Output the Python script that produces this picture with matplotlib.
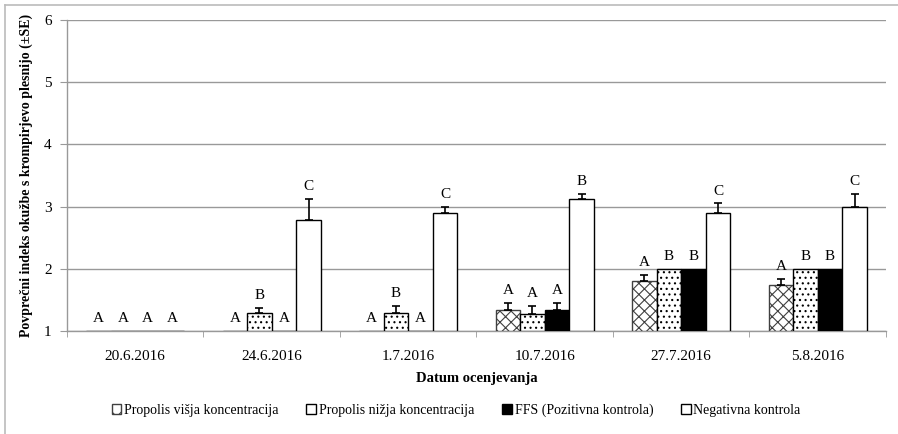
import matplotlib
matplotlib.use("Agg")
import matplotlib.pyplot as plt
import numpy as np
from matplotlib.lines import Line2D
from matplotlib.patches import Patch

plt.rcParams['font.family'] = ['Liberation Serif', 'DejaVu Serif']
plt.rcParams['hatch.linewidth'] = 0.8

dates = ["20.6.2016", "24.6.2016", "1.7.2016", "10.7.2016", "27.7.2016", "5.8.2016"]
series = ["Propolis višja koncentracija", "Propolis nižja koncentracija",
          "FFS (Pozitivna kontrola)", "Negativna kontrola"]

visja = [1.0, 1.0, 1.0, 1.34, 1.81, 1.74]
visja_se = [0.0, 0.0, 0.0, 0.11, 0.09, 0.10]
nizja = [1.0, 1.29, 1.29, 1.28, 2.0, 2.0]
nizja_se = [0.0, 0.08, 0.11, 0.12, 0.0, 0.0]
ffs = [1.0, 1.0, 1.0, 1.34, 2.0, 2.0]
ffs_se = [0.0, 0.0, 0.0, 0.11, 0.0, 0.0]
neg = [1.0, 2.78, 2.89, 3.12, 2.89, 3.0]
neg_se = [0.0, 0.35, 0.10, 0.08, 0.16, 0.20]

letters_visja = ["A", "A", "A", "A", "A", "A"]
letters_nizja = ["A", "B", "B", "A", "B", "B"]
letters_ffs = ["A", "A", "A", "A", "B", "B"]
letters_neg = ["A", "C", "C", "B", "C", "C"]

fig = plt.figure(figsize=(8.98, 4.34), dpi=100)
ax = fig.add_axes([0.0746, 0.2373, 0.912, 0.7166])

x = np.arange(len(dates))
w = 0.18
styles = [
    dict(facecolor="white", edgecolor="#404040", hatch="xxx"),
    dict(facecolor="white", edgecolor="black", hatch="..."),
    dict(facecolor="black", edgecolor="black", hatch=None),
    dict(facecolor="white", edgecolor="black", hatch=None),
]
values = [visja, nizja, ffs, neg]
errors = [visja_se, nizja_se, ffs_se, neg_se]
letters = [letters_visja, letters_nizja, letters_ffs, letters_neg]

for k in range(4):
    pos = x + (k - 1.5) * w
    vals = np.array(values[k])
    se = np.array(errors[k])
    ax.bar(pos, vals - 1, bottom=1, width=w, linewidth=1.0,
           label=series[k], zorder=3, **styles[k])
    mask = se > 0
    ax.errorbar(pos[mask], vals[mask], yerr=[np.zeros(mask.sum()), se[mask]],
                fmt="none", ecolor="black", elinewidth=1.2, capsize=3,
                capthick=1.2, zorder=4)
    for px, v, e, t in zip(pos, vals, se, letters[k]):
        ax.text(px, v + e + 0.2, t, ha="center", va="center", fontsize=11,
                zorder=5)

ax.set_xlim(-0.5, len(dates) - 0.5)
ax.set_ylim(1, 6)
ax.set_yticks([1, 2, 3, 4, 5, 6])
ax.set_xticks(x)
ax.set_xticklabels(dates)
ax.set_xticks(np.arange(len(dates) + 1) - 0.5, minor=True)
ax.tick_params(axis="x", which="major", length=0, pad=14, labelsize=11)
ax.tick_params(axis="x", which="minor", length=4, color="#999999", direction="out")
ax.tick_params(axis="y", length=5, color="#999999", labelsize=11, pad=6)
ax.grid(axis="y", color="#999999", linewidth=1.0, zorder=0)
ax.set_axisbelow(True)
for s in ["top", "right"]:
    ax.spines[s].set_visible(False)
for s in ["left", "bottom"]:
    ax.spines[s].set_color("#999999")
    ax.spines[s].set_linewidth(1.0)

ax.set_xlabel("Datum ocenjevanja", fontsize=10.5, fontweight="bold", labelpad=6)
ax.set_ylabel("Povprečni indeks okužbe s krompirjevo plesnijo (±SE)",
              fontsize=10, fontweight="bold", labelpad=8)

# legend swatches are small, so the fine pattern of the lower concentration is left out
legend_handles = [
    Patch(facecolor="white", edgecolor="#404040", hatch="xx", linewidth=1.0),
    Patch(facecolor="white", edgecolor="black", linewidth=1.0),
    Patch(facecolor="black", edgecolor="black", linewidth=1.0),
    Patch(facecolor="white", edgecolor="black", linewidth=1.0),
]
fig.legend(handles=legend_handles, labels=series, loc="center",
           bbox_to_anchor=(0.508, 0.055), ncol=4, frameon=False, fontsize=10,
           handlelength=0.7, handleheight=0.7, handletextpad=0.2, columnspacing=2.0)

# outer chart frame
fig.add_artist(Line2D([5 / 898, 5 / 898], [0, 1 - 5 / 434], color="#bbbbbb",
                      linewidth=1.2, transform=fig.transFigure))
fig.add_artist(Line2D([5 / 898, 1], [1 - 5 / 434, 1 - 5 / 434], color="#bbbbbb",
                      linewidth=1.2, transform=fig.transFigure))

fig.savefig("out.png", dpi=100)
